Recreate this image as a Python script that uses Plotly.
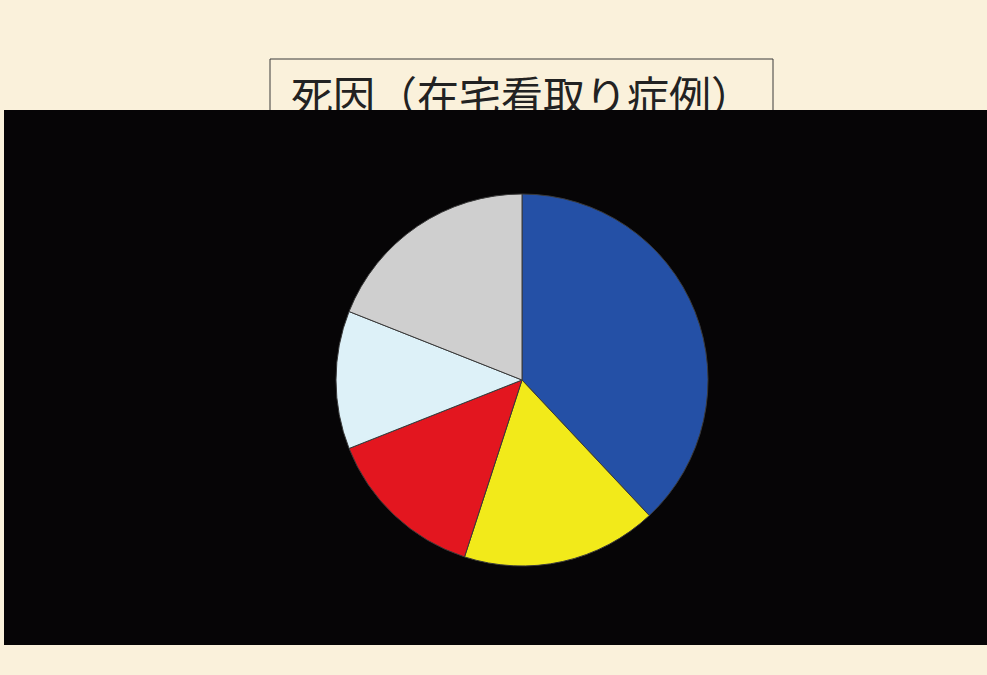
import plotly.graph_objects as go

W, H = 987, 675

title_text = "死因（在宅看取り症例）"
categories = ["分類A", "分類B", "分類C", "分類D", "分類E"]
values = [38, 17, 14, 12, 19]
colors = ["#2450A6", "#F2EA1A", "#E3161F", "#DDF1F8", "#CFCFCF"]

BG = "#FAF1DB"
BLACK = "#060506"


def px(x):
    return x / W


def py(y):
    return 1 - y / H


fig = go.Figure()

# Title text in a clipped top strip (so the black band cuts through it)
fig.add_trace(go.Scatter(
    x=[522], y=[H - 101], mode="text", text=[title_text],
    textposition="middle center",
    textfont=dict(family="Noto Sans CJK JP", size=42, color="#222222"),
    cliponaxis=True, hoverinfo="skip", showlegend=False,
    xaxis="x", yaxis="y",
))

# Pie
cx, cy, r = 522, 380, 186
fig.add_trace(go.Pie(
    labels=categories, values=values, sort=False, direction="clockwise",
    rotation=0, textinfo="none", showlegend=False,
    marker=dict(colors=colors, line=dict(color="#3a3a3a", width=1)),
    domain=dict(x=[px(cx - r), px(cx + r)], y=[py(cy + r), py(cy - r)]),
))

fig.update_layout(
    width=W, height=H,
    margin=dict(l=0, r=0, t=0, b=0),
    paper_bgcolor=BG, plot_bgcolor="rgba(0,0,0,0)",
    xaxis=dict(domain=[0, 1], range=[0, W], visible=False, fixedrange=True),
    yaxis=dict(domain=[py(110), 1], range=[H - 110, H], visible=False, fixedrange=True),
    shapes=[
        dict(type="rect", xref="paper", yref="paper", layer="below",
             x0=px(270), x1=px(773), y0=py(130), y1=py(59),
             line=dict(color="#3a3a3a", width=1), fillcolor="rgba(0,0,0,0)"),
        dict(type="rect", xref="paper", yref="paper", layer="below",
             x0=px(4), x1=1, y0=py(645), y1=py(110),
             line=dict(width=0), fillcolor=BLACK),
    ],
)

fig.write_html("out.html")
